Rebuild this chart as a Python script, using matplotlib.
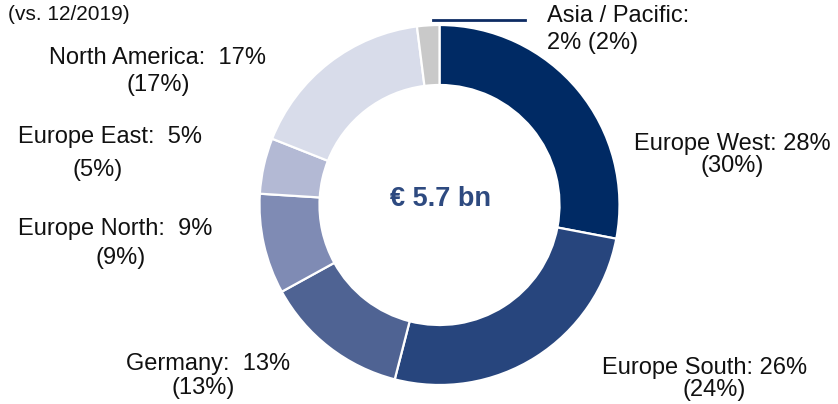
import matplotlib.pyplot as plt

# regional split, share now and (share at 12/2019)
regions = ["Europe West", "Europe South", "Germany", "Europe North",
           "Europe East", "North America", "Asia / Pacific"]
share_now = [28, 26, 13, 9, 5, 17, 2]
share_prev = [30, 24, 13, 9, 5, 17, 2]
colors = ["#002a64", "#27457d", "#4f6393", "#7f8bb4",
          "#b3b9d4", "#d8dcea", "#c9c9c9"]
total_label = "€ 5.7 bn"

plt.rcParams['font.family'] = ['Liberation Sans', 'DejaVu Sans']

fig = plt.figure(figsize=(8.38, 4.04), dpi=100)
ax = fig.add_axes([0, 0, 1, 1])

# y axis inverted so that positions below are screen pixels
ax.pie(share_now, colors=colors, startangle=-90, counterclock=True,
       center=(439.5, 205), radius=180,
       wedgeprops=dict(width=60, edgecolor="white", linewidth=1.6))
ax.set_xlim(0, 838)
ax.set_ylim(404, 0)
ax.set_aspect('equal')
ax.axis('off')

fs = 17
txt = dict(fontsize=fs, color="#111111", va="center")

def label(x1, y1, x2, y2, i, sep=":  ", ha="center"):
    ax.text(x1, y1, f"{regions[i]}{sep}{share_now[i]}%", ha=ha, **txt)
    ax.text(x2, y2, f"({share_prev[i]}%)", ha=ha, **txt)

label(732, 144, 732, 166, 0, sep=": ")
label(705, 368, 714, 390, 1, sep=": ")
label(208, 364, 203, 388, 2)
label(115, 229, 121, 258, 3)
label(110, 137, 98, 170, 4)
label(157, 58, 158, 85, 5)

# Asia / Pacific with leader line
ax.plot([433, 525], [20, 20], color="#0d2b63", linewidth=2)
ax.text(547, 16, f"{regions[6]}:", ha="left", **txt)
ax.text(547, 43, f"{share_now[6]}% ({share_prev[6]}%)", ha="left", **txt)

ax.text(8, 15, "(vs. 12/2019)", fontsize=15, color="#111111",
        ha="left", va="center")

ax.text(440, 199, total_label, fontsize=19.5, fontweight="bold",
        color="#2e4a80", ha="center", va="center")

fig.savefig("out.png", dpi=100)
